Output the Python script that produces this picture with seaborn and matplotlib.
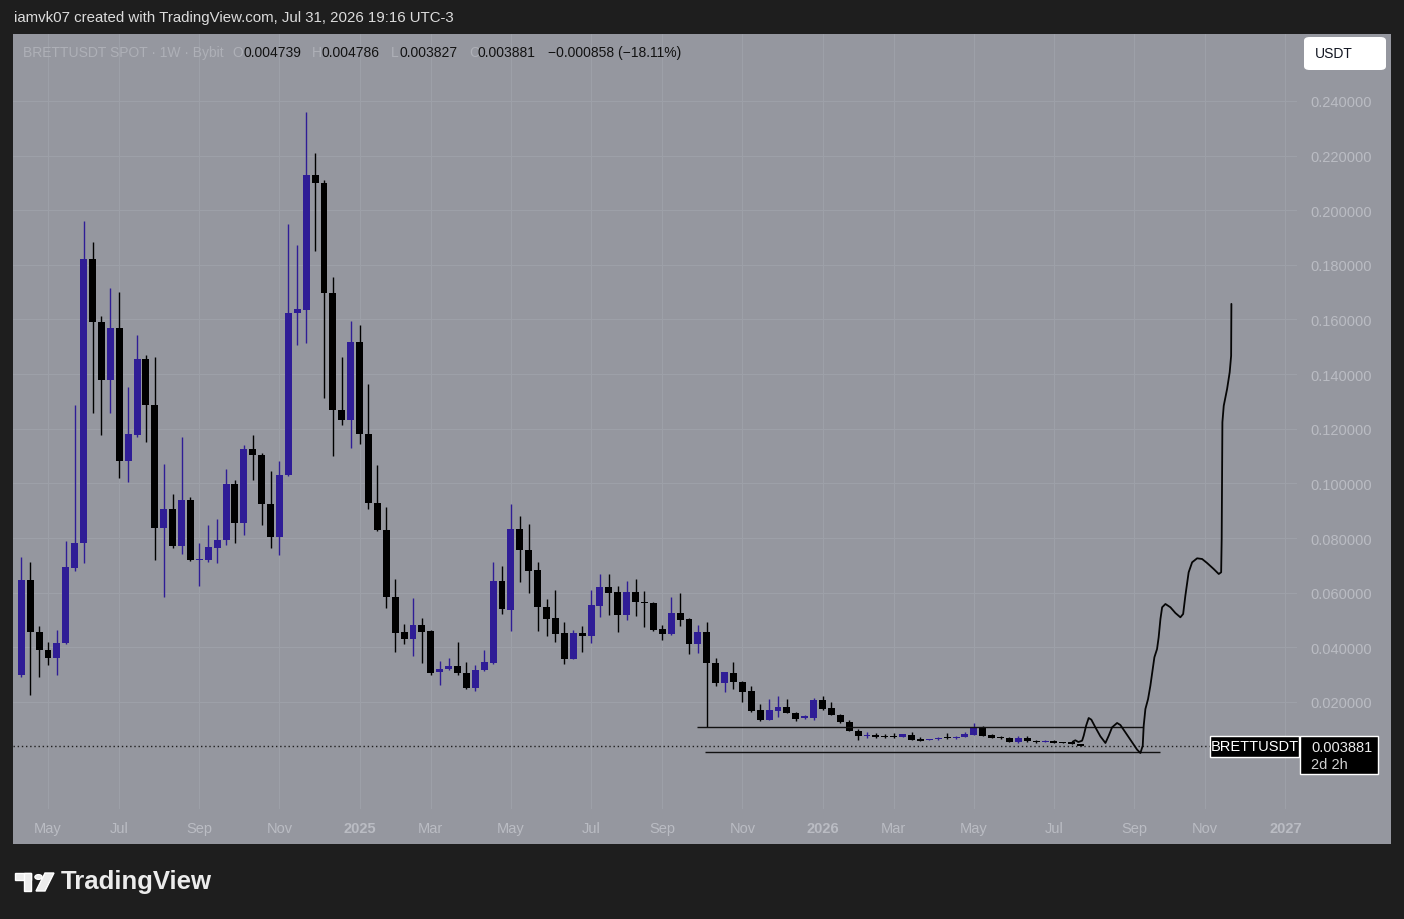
import datetime as dt
import numpy as np
import pandas as pd
import matplotlib
matplotlib.use("Agg")
import matplotlib.pyplot as plt
import matplotlib.dates as mdates
from matplotlib.patches import Rectangle, FancyBboxPatch, Circle, Polygon
import seaborn as sns

# ---------------- data ----------------
first_week = "2024-04-15"
opens = [
0.0298,0.0645,0.0455,0.0392,0.0360,0.0414,0.0692,0.0780,0.1821,0.1589,
0.1380,0.1569,0.1083,0.1178,0.1455,0.1286,0.0835,0.0906,0.0772,0.0939,
0.0721,0.0721,0.0765,0.0791,0.0998,0.0854,0.1126,0.1103,0.0926,0.0802,
0.1031,0.1623,0.1636,0.2129,0.2099,0.1697,0.1270,0.1231,0.1518,0.1179,
0.0929,0.0831,0.0586,0.0456,0.0432,0.0481,0.0460,0.0309,0.0320,0.0331,
0.0306,0.0250,0.0317,0.0341,0.0642,0.0538,0.0833,0.0757,0.0683,0.0546,
0.0506,0.0452,0.0357,0.0452,0.0443,0.0552,0.0620,0.0601,0.0518,0.0601,
0.0565,0.0562,0.0467,0.0449,0.0526,0.0504,0.0412,0.0455,0.0342,0.0268,
0.0306,0.0274,0.0241,0.0171,0.0135,0.0168,0.0180,0.0158,0.0141,0.0140,
0.0207,0.0177,0.0153,0.0126,0.0093,0.0077,0.0079,0.0072,0.0073,0.0073,
0.0079,0.0064,0.0061,0.0063,0.0068,0.0067,0.0071,0.0080,0.0104,0.0079,
0.0070,0.0069,0.0055,0.0067,0.0056,0.0055,0.0057,0.0052,0.0052,0.004739]
highs = [
0.0730,0.0713,0.0478,0.0420,0.0464,0.0789,0.1288,0.1959,0.1884,0.1612,
0.1714,0.1701,0.1353,0.1544,0.1471,0.1462,0.1070,0.0961,0.1170,0.0952,
0.0782,0.0847,0.0870,0.1053,0.1011,0.1142,0.1178,0.1113,0.1044,0.1083,
0.1950,0.1871,0.2360,0.2210,0.2109,0.1756,0.1462,0.1593,0.1578,0.1364,
0.1069,0.0915,0.0649,0.0485,0.0579,0.0509,0.0462,0.0351,0.0362,0.0421,
0.0345,0.0337,0.0390,0.0712,0.0698,0.0925,0.0882,0.0851,0.0711,0.0577,
0.0611,0.0494,0.0465,0.0479,0.0611,0.0668,0.0668,0.0626,0.0644,0.0650,
0.0607,0.0567,0.0482,0.0583,0.0599,0.0508,0.0482,0.0494,0.0360,0.0311,
0.0347,0.0278,0.0260,0.0193,0.0211,0.0221,0.0211,0.0164,0.0152,0.0213,
0.0221,0.0201,0.0155,0.0135,0.0101,0.0089,0.0086,0.0083,0.0086,0.0084,
0.0089,0.0073,0.0064,0.0071,0.0086,0.0074,0.0091,0.0123,0.0113,0.0081,
0.0074,0.0072,0.0074,0.0074,0.0060,0.0059,0.0060,0.0055,0.0055,0.004786]
lows = [
0.0290,0.0227,0.0292,0.0334,0.0298,0.0412,0.0678,0.0710,0.1259,0.1178,
0.1259,0.1021,0.1004,0.1170,0.1152,0.0721,0.0586,0.0765,0.0743,0.0715,
0.0625,0.0713,0.0708,0.0773,0.0782,0.0812,0.1011,0.0847,0.0762,0.0739,
0.1027,0.1505,0.1514,0.1851,0.1314,0.1100,0.1214,0.1131,0.1146,0.0905,
0.0825,0.0544,0.0383,0.0411,0.0369,0.0341,0.0300,0.0261,0.0316,0.0300,
0.0246,0.0239,0.0315,0.0340,0.0523,0.0461,0.0640,0.0599,0.0461,0.0443,
0.0421,0.0339,0.0356,0.0382,0.0416,0.0510,0.0518,0.0457,0.0501,0.0516,
0.0473,0.0461,0.0428,0.0445,0.0477,0.0376,0.0379,0.0107,0.0260,0.0238,
0.0247,0.0199,0.0162,0.0131,0.0135,0.0144,0.0158,0.0131,0.0138,0.0135,
0.0172,0.0151,0.0124,0.0092,0.0062,0.0067,0.0068,0.0067,0.0069,0.0072,
0.0061,0.0056,0.0060,0.0062,0.0065,0.0066,0.0070,0.0080,0.0076,0.0068,
0.0065,0.0052,0.0049,0.0055,0.0051,0.0052,0.0050,0.0050,0.0046,0.003827]
closes = [
0.0645,0.0455,0.0390,0.0360,0.0416,0.0694,0.0782,0.1821,0.1589,0.1380,
0.1569,0.1083,0.1181,0.1455,0.1286,0.0835,0.0906,0.0772,0.0939,0.0721,
0.0724,0.0769,0.0791,0.0998,0.0854,0.1126,0.1103,0.0926,0.0802,0.1031,
0.1623,0.1638,0.2129,0.2099,0.1697,0.1270,0.1231,0.1518,0.1179,0.0929,
0.0831,0.0586,0.0453,0.0432,0.0481,0.0457,0.0306,0.0320,0.0331,0.0306,
0.0250,0.0317,0.0345,0.0642,0.0541,0.0833,0.0757,0.0680,0.0546,0.0504,
0.0449,0.0357,0.0452,0.0443,0.0555,0.0620,0.0599,0.0518,0.0601,0.0565,
0.0563,0.0464,0.0449,0.0526,0.0501,0.0412,0.0455,0.0342,0.0268,0.0309,
0.0272,0.0238,0.0168,0.0135,0.0171,0.0180,0.0158,0.0138,0.0148,0.0208,
0.0174,0.0152,0.0126,0.0093,0.0077,0.0079,0.0071,0.0071,0.0072,0.0082,
0.0062,0.0058,0.0063,0.0068,0.0067,0.0072,0.0083,0.0106,0.0077,0.0069,
0.0069,0.0055,0.0067,0.0056,0.0055,0.0056,0.0051,0.0051,0.004739,0.003881]

# hand-drawn projection path: weeks after the last candle, price
proj_weeks = [-0.90,-0.60,-0.26,0.16,0.34,0.61,0.90,1.20,1.65,2.21,2.78,3.15,3.53,4.09,
              4.46,5.02,5.78,6.34,6.71,6.97,7.08,7.27,7.57,7.83,8.28,8.58,8.76,8.96,
              9.15,9.52,10.08,10.64,11.20,11.51,11.76,12.13,12.52,13.08,13.64,14.20,
              14.94,15.51,15.78,15.84,15.92,16.07,16.45,16.74,16.90,16.93]
proj_prices = [0.00545,0.00597,0.00534,0.00582,0.00765,0.01131,0.01413,0.01351,0.01072,
               0.00743,0.00498,0.00765,0.01072,0.01230,0.01157,0.00889,0.00523,0.00253,
               0.00132,0.00399,0.01131,0.01742,0.02108,0.02595,0.03635,0.03939,0.04367,
               0.05037,0.05465,0.05586,0.05465,0.05256,0.05099,0.05220,0.05890,0.06746,
               0.07112,0.07258,0.07233,0.07086,0.06867,0.06684,0.06746,0.07965,0.1224,
               0.1284,0.1346,0.1407,0.1467,0.1657]

# horizontal range lines: price, start week index, end week index
range_prices = [0.01072, 0.00157]
range_start = [75.9, 76.8]
range_end = [126.0, 127.9]

last_price = 0.003881
price_ticks = [0.02, 0.04, 0.06, 0.08, 0.10, 0.12, 0.14, 0.16, 0.18, 0.20, 0.22, 0.24]
month_starts = ["2024-05", "2024-07", "2024-09", "2024-11", "2025-01", "2025-03", "2025-05",
                "2025-07", "2025-09", "2025-11", "2026-01", "2026-03", "2026-05", "2026-07",
                "2026-09", "2026-11", "2027-01"]
month_labels = ["May", "Jul", "Sep", "Nov", "2025", "Mar", "May", "Jul", "Sep", "Nov",
                "2026", "Mar", "May", "Jul", "Sep", "Nov", "2027"]

# ---------------- style ----------------
GRAY = "#95979f"
DARK = "#1e1e1e"
UP = "#2f1d96"
DOWN = "#000000"
GRID = "#9da0a8"
TICK = "#babcc3"

sns.set_style("darkgrid", {"axes.facecolor": GRAY, "grid.color": GRID})
plt.rcParams["font.family"] = ["Liberation Sans", "DejaVu Sans"]

W, H = 1404, 920
fig = plt.figure(figsize=(W / 100, H / 100), dpi=100, facecolor=DARK)

def fx(px):
    return px / W

def fy(py):
    return 1 - py / H

# chart pane
fig.patches.append(Rectangle((fx(13), fy(845)), (1391 - 13) / W, (845 - 35) / H,
                             transform=fig.transFigure, facecolor=GRAY, edgecolor="none",
                             zorder=-10))

ax = fig.add_axes([fx(13), fy(810), (1297 - 13) / W, (810 - 35) / H])
ax.set_facecolor(GRAY)

df = pd.DataFrame({"open": opens, "high": highs, "low": lows, "close": closes})
df["date"] = pd.date_range(first_week, periods=len(df), freq="7D")
df["x"] = mdates.date2num(df["date"])
df["up"] = df["close"] >= df["open"]
df["color"] = np.where(df["up"], UP, DOWN)
min_body = 0.00035
df["bottom"] = df[["open", "close"]].min(axis=1)
df["height"] = (df["close"] - df["open"]).abs().clip(lower=min_body)

x0 = df["x"].iloc[0]
week = 7.0

ax.vlines(df["x"], df["low"], df["high"], colors=df["color"], lw=1.0, zorder=3)
ax.bar(df["x"], df["height"], bottom=df["bottom"], width=week * 0.78,
       color=df["color"], edgecolor="none", zorder=4)

# range lines
for p, s, e in zip(range_prices, range_start, range_end):
    ax.hlines(p, x0 + s * week, x0 + e * week, color="#111111", lw=1.0, zorder=5)

# current price dotted line
ax.axhline(last_price, color="#202020", lw=1.0, ls=(0, (1, 2)), zorder=2)

# projection path
proj = pd.DataFrame({"x": df["x"].iloc[-1] + np.array(proj_weeks) * week,
                     "price": proj_prices})
sns.lineplot(data=proj, x="x", y="price", sort=False, estimator=None, color="#050505",
             lw=1.3, ax=ax, zorder=6, solid_joinstyle="round", solid_capstyle="round")

# axes limits (pixel-calibrated scale)
ax.set_ylim(-0.01918, 0.26449)
ax.set_xlim(x0 - 0.933 * week, x0 + 143.3 * week)

# ticks
def first_monday(ym):
    d = dt.date(int(ym[:4]), int(ym[5:]), 1)
    while d.weekday() != 0:
        d += dt.timedelta(days=1)
    return d

tick_pos = [mdates.date2num(first_monday(m)) for m in month_starts]
ax.set_xticks(tick_pos)
ax.set_xticklabels(month_labels)
for lab, txt in zip(ax.get_xticklabels(), month_labels):
    if txt.isdigit():
        lab.set_fontweight("bold")
ax.set_yticks(price_ticks)
ax.set_yticklabels([f"{v:.6f}" for v in price_ticks])
ax.yaxis.tick_right()
ax.tick_params(axis="y", length=0, pad=9.5, labelsize=10.5, labelcolor=TICK)
ax.tick_params(axis="x", length=0, pad=8.5, labelsize=10.5, labelcolor=TICK)
ax.grid(True, color=GRID, lw=0.8)
ax.set_xlabel("")
ax.set_ylabel("")
for sp in ax.spines.values():
    sp.set_visible(False)

# ---------------- texts & overlays ----------------
fig.text(fx(14), fy(18), "iamvk07 created with TradingView.com, Jul 31, 2026 19:16 UTC-3",
         color="#dcdcdc", fontsize=10.8, va="center", ha="left")

FAINT = "#aeb0b7"
INK = "#121212"
legend_parts = [
    (23, "BRETTUSDT SPOT · 1W · Bybit", FAINT),
    (232, "O", FAINT), (243, "0.004739", INK),
    (312, "H", FAINT), (322, "0.004786", INK),
    (391, "L", FAINT), (400, "0.003827", INK),
    (469, "C", FAINT), (478, "0.003881", INK),
    (548, "\u22120.000858 (\u221218.11%)", INK),
]
for px, s, c in legend_parts:
    fig.text(fx(px), fy(53), s, color=c, fontsize=10, va="center", ha="left")

# USDT box
fig.patches.append(FancyBboxPatch((fx(1304), fy(71)), (1386 - 1304) / W, (71 - 38) / H,
                                  boxstyle="round,pad=0,rounding_size=0.004",
                                  transform=fig.transFigure, facecolor="white",
                                  edgecolor="none", zorder=5))
fig.text(fx(1315), fy(54.5), "USDT", color="#131722", fontsize=10, va="center", ha="left",
         zorder=6)

# last price labels
fig.patches.append(Rectangle((fx(1210), fy(758)), (1299 - 1210) / W, (758 - 737) / H,
                             transform=fig.transFigure, facecolor="black", zorder=5))
fig.text(fx(1254.5), fy(747.5), "BRETTUSDT", color="white", fontsize=10.5, va="center",
         ha="center", zorder=6)
fig.patches.append(Rectangle((fx(1300), fy(775)), (1378 - 1300) / W, (775 - 737) / H,
                             transform=fig.transFigure, facecolor="black", zorder=5))
fig.text(fx(1311), fy(748), "0.003881", color="#ececec", fontsize=10.5, va="center",
         ha="left", zorder=6)
fig.text(fx(1311), fy(765), "2d 2h", color="#cfcfcf", fontsize=10.5, va="center",
         ha="left", zorder=6)

# TradingView logo
LOGO = "#ececec"
fig.patches.append(Rectangle((fx(15), fy(881)), 16 / W, 7 / H, transform=fig.transFigure,
                             facecolor=LOGO, zorder=5))
fig.patches.append(Rectangle((fx(24), fy(892)), 7 / W, 18 / H, transform=fig.transFigure,
                             facecolor=LOGO, zorder=5))
fig.patches.append(Circle((fx(38.5), fy(878)), 3.6 / W, transform=fig.transFigure,
                          facecolor=LOGO, zorder=5))
fig.patches.append(Polygon([(fx(45), fy(874)), (fx(54), fy(874)), (fx(45), fy(892)),
                            (fx(36), fy(892))], closed=True, transform=fig.transFigure,
                           facecolor=LOGO, zorder=5))
fig.text(fx(61), fy(882), "TradingView", color=LOGO, fontsize=18.5, fontweight="bold",
         va="center", ha="left")

fig.savefig("out.png", dpi=100, facecolor=DARK)
